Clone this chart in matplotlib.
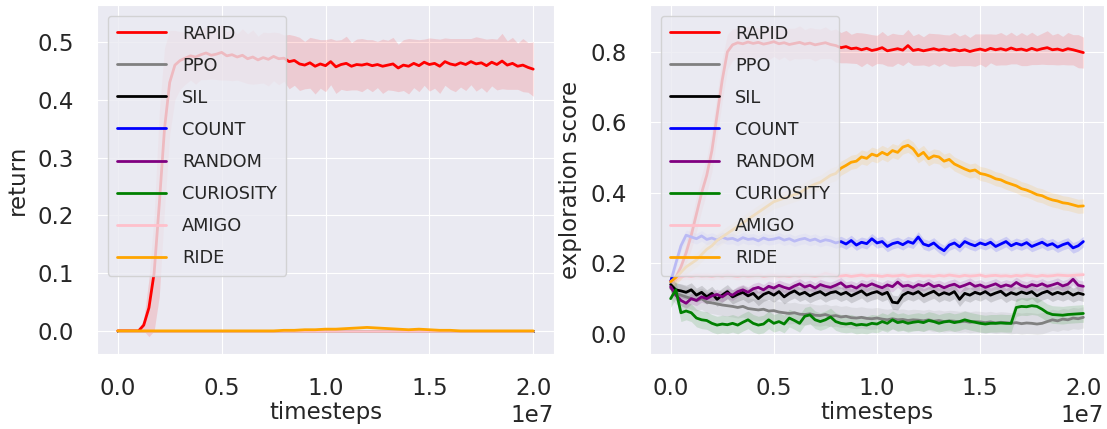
import numpy as np
import matplotlib
matplotlib.use("Agg")
import matplotlib.pyplot as plt
import seaborn as sns

sns.set_style("darkgrid")
plt.rcParams['font.family'] = ['DejaVu Sans']

labels = ["RAPID", "PPO", "SIL", "COUNT", "RANDOM", "CURIOSITY", "AMIGO", "RIDE"]
colors = ["red", "gray", "black", "blue", "purple", "green", "pink", "orange"]

# timesteps grids
x81 = np.arange(81) * 0.025e7
x41 = np.arange(41) * 0.05e7
x_flat = [0.0, 2.0e7]

# ---------------- left panel: return ----------------
left_rapid = [
    0.0, 0.0, 0.0, 0.0, 0.0, 0.01, 0.04, 0.10, 0.22, 0.35,
    0.43, 0.46, 0.468, 0.472, 0.476, 0.474, 0.478, 0.481, 0.477, 0.479,
    0.482, 0.476, 0.478, 0.474, 0.477, 0.471, 0.474, 0.469, 0.473, 0.470,
    0.475, 0.471, 0.472, 0.466, 0.468, 0.462, 0.460, 0.464, 0.458, 0.462,
    0.459, 0.466, 0.457, 0.461, 0.463, 0.458, 0.461, 0.460, 0.462, 0.459,
    0.461, 0.458, 0.460, 0.462, 0.455, 0.460, 0.458, 0.463, 0.459, 0.465,
    0.461, 0.463, 0.458, 0.466, 0.462, 0.460, 0.464, 0.461, 0.466, 0.462,
    0.464, 0.459, 0.465, 0.461, 0.467, 0.460, 0.463, 0.458, 0.460, 0.456,
    0.453]
left_rapid_std = [
    0.0, 0.0, 0.0, 0.0, 0.002, 0.01, 0.05, 0.10, 0.16, 0.14,
    0.09, 0.06, 0.05, 0.045, 0.042, 0.047, 0.043, 0.046, 0.041, 0.044,
    0.048, 0.042, 0.045, 0.040, 0.046, 0.043, 0.047, 0.041, 0.044, 0.046,
    0.042, 0.045, 0.040, 0.047, 0.043, 0.046, 0.041, 0.044, 0.048, 0.042,
    0.045, 0.040, 0.046, 0.043, 0.047, 0.041, 0.044, 0.046, 0.042, 0.045,
    0.040, 0.047, 0.043, 0.046, 0.041, 0.044, 0.048, 0.042, 0.045, 0.040,
    0.046, 0.043, 0.047, 0.041, 0.044, 0.046, 0.042, 0.045, 0.040, 0.047,
    0.043, 0.046, 0.041, 0.044, 0.048, 0.042, 0.045, 0.040, 0.046, 0.043,
    0.047]
left_flat = [0.0, 0.0]   # PPO, SIL, COUNT, RANDOM, CURIOSITY, AMIGO stay at 0
left_ride = [
    0, 0, 0, 0, 0, 0, 0, 0, 0, 0,
    0, 0, 0, 0, 0, 0, 0.001, 0.001, 0.002, 0.002,
    0.003, 0.003, 0.004, 0.005, 0.006, 0.005, 0.004, 0.003, 0.002, 0.003,
    0.002, 0.001, 0.001, 0, 0, 0, 0, 0, 0, 0,
    0]

# ---------------- right panel: exploration score ----------------
right_rapid = [
    0.15, 0.16, 0.19, 0.23, 0.28, 0.34, 0.40, 0.45, 0.52, 0.62,
    0.72, 0.80, 0.82, 0.826, 0.823, 0.828, 0.824, 0.827, 0.822, 0.825,
    0.829, 0.823, 0.826, 0.821, 0.824, 0.827, 0.822, 0.825, 0.820, 0.823,
    0.826, 0.821, 0.818, 0.812, 0.815, 0.809, 0.811, 0.806, 0.810, 0.804,
    0.807, 0.812, 0.803, 0.806, 0.809, 0.805, 0.818, 0.804, 0.807, 0.803,
    0.806, 0.809, 0.805, 0.808, 0.804, 0.807, 0.803, 0.806, 0.801, 0.805,
    0.808, 0.804, 0.810, 0.806, 0.809, 0.805, 0.811, 0.806, 0.808, 0.804,
    0.810, 0.805, 0.809, 0.812, 0.806, 0.808, 0.804, 0.809, 0.806, 0.802,
    0.798]
right_rapid_std = [
    0.005, 0.01, 0.02, 0.03, 0.04, 0.05, 0.05, 0.05, 0.06, 0.06,
    0.06, 0.05, 0.045, 0.042, 0.047, 0.043, 0.046, 0.041, 0.044, 0.048,
    0.042, 0.045, 0.040, 0.046, 0.043, 0.047, 0.041, 0.044, 0.046, 0.042,
    0.045, 0.040, 0.047, 0.043, 0.046, 0.041, 0.044, 0.048, 0.042, 0.045,
    0.040, 0.046, 0.043, 0.047, 0.041, 0.044, 0.046, 0.042, 0.045, 0.040,
    0.047, 0.043, 0.046, 0.041, 0.044, 0.048, 0.042, 0.045, 0.040, 0.046,
    0.043, 0.047, 0.041, 0.044, 0.046, 0.042, 0.045, 0.040, 0.047, 0.043,
    0.046, 0.041, 0.044, 0.048, 0.042, 0.045, 0.040, 0.046, 0.043, 0.047,
    0.044]
right_ppo = [
    0.13, 0.115, 0.11, 0.105, 0.10, 0.095, 0.1, 0.09, 0.088, 0.085,
    0.082, 0.08, 0.078, 0.075, 0.078, 0.072, 0.07, 0.068, 0.07, 0.065,
    0.066, 0.062, 0.06, 0.058, 0.06, 0.056, 0.055, 0.057, 0.053, 0.052,
    0.055, 0.05, 0.052, 0.048, 0.05, 0.046, 0.045, 0.047, 0.044, 0.043,
    0.045, 0.042, 0.04, 0.043, 0.04, 0.041, 0.038, 0.04, 0.039, 0.037,
    0.04, 0.036, 0.038, 0.035, 0.037, 0.036, 0.034, 0.036, 0.033, 0.035,
    0.034, 0.032, 0.034, 0.031, 0.033, 0.032, 0.03, 0.032, 0.029, 0.031,
    0.03, 0.028, 0.03, 0.035, 0.04, 0.037, 0.042, 0.04, 0.045, 0.043,
    0.047]
right_sil = [
    0.14, 0.125, 0.122, 0.118, 0.125, 0.11, 0.118, 0.105, 0.115, 0.098,
    0.11, 0.12, 0.105, 0.112, 0.118, 0.108, 0.115, 0.1, 0.112, 0.118,
    0.11, 0.12, 0.105, 0.115, 0.122, 0.112, 0.118, 0.108, 0.115, 0.12,
    0.11, 0.117, 0.12, 0.112, 0.118, 0.108, 0.115, 0.122, 0.11, 0.116,
    0.12, 0.112, 0.118, 0.09, 0.088, 0.11, 0.118, 0.113, 0.12, 0.108,
    0.115, 0.121, 0.11, 0.117, 0.112, 0.12, 0.098, 0.115, 0.11, 0.118,
    0.113, 0.12, 0.11, 0.116, 0.121, 0.109, 0.117, 0.112, 0.119, 0.114,
    0.12, 0.108, 0.116, 0.121, 0.112, 0.118, 0.113, 0.119, 0.11, 0.116,
    0.112]
right_count = [
    0.148, 0.20, 0.25, 0.28, 0.275, 0.270, 0.278, 0.268, 0.272, 0.266,
    0.274, 0.269, 0.271, 0.265, 0.273, 0.268, 0.270, 0.264, 0.272, 0.267,
    0.269, 0.273, 0.266, 0.270, 0.263, 0.268, 0.271, 0.265, 0.269, 0.262,
    0.267, 0.264, 0.258, 0.262, 0.255, 0.265, 0.252, 0.260, 0.256, 0.270,
    0.258, 0.262, 0.248, 0.256, 0.260, 0.253, 0.262, 0.257, 0.275, 0.255,
    0.250, 0.258, 0.245, 0.236, 0.252, 0.258, 0.247, 0.262, 0.255, 0.250,
    0.258, 0.253, 0.260, 0.248, 0.255, 0.262, 0.250, 0.257, 0.252, 0.259,
    0.248, 0.254, 0.260, 0.251, 0.256, 0.246, 0.253, 0.258, 0.244, 0.250,
    0.262]
right_random = [
    0.134, 0.11, 0.095, 0.087, 0.10, 0.095, 0.105, 0.10, 0.108, 0.112,
    0.105, 0.115, 0.11, 0.12, 0.125, 0.118, 0.128, 0.132, 0.125, 0.135,
    0.13, 0.138, 0.132, 0.128, 0.136, 0.142, 0.133, 0.138, 0.13, 0.14,
    0.135, 0.132, 0.138, 0.145, 0.133, 0.136, 0.13, 0.14, 0.135, 0.142,
    0.136, 0.131, 0.139, 0.134, 0.147, 0.135, 0.138, 0.132, 0.14, 0.136,
    0.143, 0.134, 0.138, 0.131, 0.137, 0.141, 0.133, 0.138, 0.144, 0.135,
    0.139, 0.132, 0.137, 0.142, 0.134, 0.139, 0.135, 0.146, 0.137, 0.133,
    0.14, 0.136, 0.142, 0.135, 0.139, 0.144, 0.136, 0.141, 0.155, 0.138,
    0.135]
right_curiosity = [
    0.10, 0.125, 0.06, 0.065, 0.06, 0.045, 0.04, 0.038, 0.03, 0.025,
    0.028, 0.026, 0.03, 0.025, 0.033, 0.04, 0.03, 0.025, 0.028, 0.04,
    0.03, 0.035, 0.028, 0.045, 0.038, 0.03, 0.05, 0.054, 0.04, 0.035,
    0.04, 0.048, 0.035, 0.03, 0.028, 0.03, 0.025, 0.027, 0.025, 0.03,
    0.028, 0.035, 0.03, 0.04, 0.032, 0.035, 0.03, 0.033, 0.035, 0.032,
    0.038, 0.035, 0.03, 0.034, 0.036, 0.032, 0.035, 0.04, 0.036, 0.033,
    0.03, 0.028, 0.03, 0.03, 0.031, 0.03, 0.03, 0.075, 0.078, 0.077,
    0.08, 0.078, 0.07, 0.06, 0.055, 0.054, 0.053, 0.055, 0.056, 0.057,
    0.058]
right_amigo = [
    0.148, 0.158, 0.162, 0.165, 0.163, 0.166, 0.164, 0.165, 0.163, 0.166,
    0.164, 0.167, 0.165, 0.163, 0.166, 0.164, 0.165, 0.167, 0.163, 0.165,
    0.166, 0.164, 0.165, 0.163, 0.166, 0.164, 0.167, 0.165, 0.163, 0.166,
    0.172, 0.168, 0.165, 0.164, 0.166, 0.163, 0.165, 0.167, 0.164, 0.166,
    0.165, 0.163, 0.166, 0.164, 0.165, 0.167, 0.163, 0.165, 0.166, 0.164,
    0.165, 0.163, 0.166, 0.164, 0.167, 0.165, 0.163, 0.166, 0.164, 0.165,
    0.167, 0.163, 0.165, 0.166, 0.164, 0.165, 0.163, 0.166, 0.164, 0.167,
    0.165, 0.163, 0.166, 0.164, 0.165, 0.167, 0.166, 0.165, 0.166, 0.167,
    0.168]
right_ride = [
    0.148, 0.16, 0.175, 0.19, 0.20, 0.21, 0.225, 0.24, 0.25, 0.265,
    0.275, 0.285, 0.295, 0.305, 0.315, 0.325, 0.335, 0.345, 0.355, 0.365,
    0.375, 0.38, 0.385, 0.39, 0.395, 0.40, 0.41, 0.418, 0.425, 0.43,
    0.44, 0.45, 0.455, 0.47, 0.478, 0.487, 0.49, 0.502, 0.498, 0.51,
    0.505, 0.515, 0.508, 0.52, 0.515, 0.53, 0.535, 0.525, 0.505, 0.515,
    0.497, 0.505, 0.502, 0.49, 0.495, 0.482, 0.475, 0.468, 0.462, 0.465,
    0.455, 0.452, 0.447, 0.44, 0.437, 0.43, 0.425, 0.42, 0.412, 0.408,
    0.402, 0.395, 0.392, 0.385, 0.38, 0.377, 0.372, 0.37, 0.366, 0.362,
    0.363]
# band half-widths for the right panel (RAPID uses its own array)
right_std = {"PPO": 0.03, "SIL": 0.02, "COUNT": 0.015, "RANDOM": 0.015,
             "CURIOSITY": 0.025, "AMIGO": 0.01, "RIDE": 0.02}

left_series = {
    "RAPID": (x81, left_rapid, left_rapid_std),
    "PPO": (x_flat, left_flat, 0.0),
    "SIL": (x_flat, left_flat, 0.0),
    "COUNT": (x_flat, left_flat, 0.0),
    "RANDOM": (x_flat, left_flat, 0.0),
    "CURIOSITY": (x_flat, left_flat, 0.0),
    "AMIGO": (x_flat, left_flat, 0.0),
    "RIDE": (x41, left_ride, 0.002),
}
right_series = {
    "RAPID": (x81, right_rapid, right_rapid_std),
    "PPO": (x81, right_ppo, right_std["PPO"]),
    "SIL": (x81, right_sil, right_std["SIL"]),
    "COUNT": (x81, right_count, right_std["COUNT"]),
    "RANDOM": (x81, right_random, right_std["RANDOM"]),
    "CURIOSITY": (x81, right_curiosity, right_std["CURIOSITY"]),
    "AMIGO": (x81, right_amigo, right_std["AMIGO"]),
    "RIDE": (x81, right_ride, right_std["RIDE"]),
}

FS = 16.5

fig = plt.figure(figsize=(11.07, 4.29), dpi=100)
axL = fig.add_axes([97 / 1107, 75 / 429, 457 / 1107, 349 / 429])
axR = fig.add_axes([650 / 1107, 75 / 429, 454 / 1107, 349 / 429])

def draw(ax, series):
    for lab, col in zip(labels, colors):
        x, y, s = series[lab]
        x = np.asarray(x, dtype=float)
        y = np.asarray(y, dtype=float)
        s = np.asarray(s, dtype=float)
        ax.fill_between(x, y - s, y + s, color=col, alpha=0.13, linewidth=0)
        ax.plot(x, y, color=col, linewidth=2.0, label=lab)
    ax.set_xlim(-0.1e7, 2.1e7)
    ax.set_xticks([0, 0.5e7, 1.0e7, 1.5e7, 2.0e7])
    ax.tick_params(labelsize=FS, pad=13)
    ax.xaxis.get_offset_text().set_fontsize(FS)
    ax.set_xlabel("timesteps", fontsize=FS, labelpad=1)
    ax.legend(loc="upper left", fontsize=12.8, handlelength=2.8,
              handletextpad=0.9, labelspacing=0.79, borderpad=0.5,
              borderaxespad=0.6, framealpha=0.8)

draw(axL, left_series)
draw(axR, right_series)

axL.set_ylim(-0.04, 0.564)
axL.set_yticks([0.0, 0.1, 0.2, 0.3, 0.4, 0.5])
axL.set_ylabel("return", fontsize=FS, labelpad=6)

axR.set_ylim(-0.057, 0.933)
axR.set_yticks([0.0, 0.2, 0.4, 0.6, 0.8])
axR.set_ylabel("exploration score", fontsize=FS, labelpad=6)

fig.savefig("out.png", dpi=100)
